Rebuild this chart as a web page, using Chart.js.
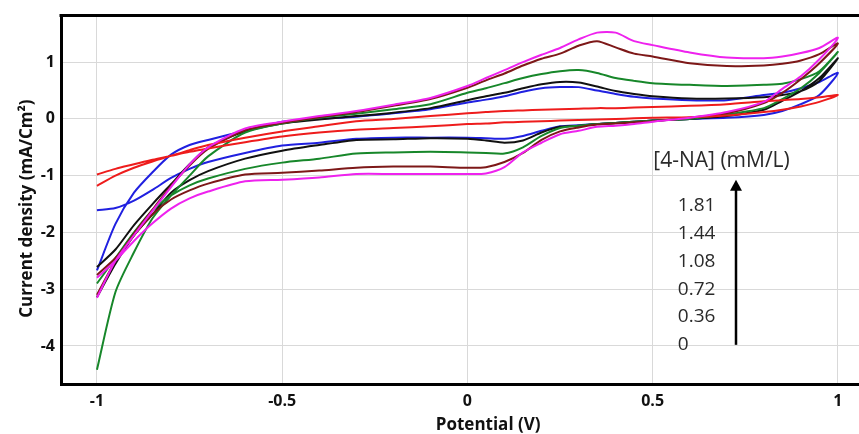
<!DOCTYPE html>
<html>
<head>
<meta charset="utf-8">
<script src="https://cdn.jsdelivr.net/npm/chart.js@4.4.1/dist/chart.umd.min.js"></script>
<style>
  body { margin: 0; background: #fff; }
</style>
</head>
<body>
<canvas id="chart" width="859" height="434"></canvas>
<script>
// potential grid (V), shared by all scans
const potential = [-1, -0.95, -0.9, -0.85, -0.8, -0.75, -0.7, -0.6, -0.5, -0.4, -0.3, -0.2, -0.1, 0,
  0.05, 0.1, 0.15, 0.2, 0.25, 0.3, 0.35, 0.4, 0.45, 0.5, 0.6, 0.7, 0.8, 0.85, 0.9, 0.95, 1];

// [4-NA] concentrations (mM/L)
const conc = ["0", "0.36", "0.72", "1.08", "1.44", "1.81"];

// current density (mA/cm2), anodic branch (upper) and cathodic branch (lower),
// both listed in the order of the potential grid
const up_0 = [-1.18, -1.0, -0.86, -0.75, -0.65, -0.55, -0.46, -0.33, -0.22, -0.13, -0.04, 0.0, 0.05, 0.1,
  0.12, 0.14, 0.15, 0.16, 0.17, 0.18, 0.19, 0.19, 0.2, 0.21, 0.23, 0.26, 0.31, 0.33, 0.35, 0.38, 0.42];
const low_0 = [-0.98, -0.88, -0.8, -0.72, -0.65, -0.58, -0.52, -0.41, -0.31, -0.24, -0.19, -0.16, -0.13, -0.09,
  -0.08, -0.06, -0.05, -0.04, -0.03, -0.02, -0.01, 0.0, 0.01, 0.02, 0.03, 0.06, 0.12, 0.16, 0.22, 0.3, 0.42];

const up_036 = [-2.67, -1.85, -1.3, -0.94, -0.63, -0.46, -0.37, -0.21, -0.05, 0.0, 0.04, 0.1, 0.17, 0.29,
  0.34, 0.4, 0.48, 0.54, 0.56, 0.56, 0.5, 0.44, 0.39, 0.36, 0.33, 0.33, 0.42, 0.46, 0.54, 0.65, 0.81];
const low_036 = [-1.61, -1.57, -1.44, -1.25, -1.04, -0.88, -0.76, -0.6, -0.47, -0.42, -0.35, -0.33, -0.33, -0.33,
  -0.34, -0.35, -0.3, -0.21, -0.13, -0.11, -0.09, -0.07, -0.05, -0.03, 0.0, 0.02, 0.07, 0.14, 0.26, 0.42, 0.81];

const up_072 = [-2.61, -2.3, -1.87, -1.5, -1.15, -0.8, -0.5, -0.22, -0.08, -0.01, 0.05, 0.11, 0.19, 0.33,
  0.4, 0.46, 0.54, 0.61, 0.65, 0.64, 0.57, 0.49, 0.44, 0.4, 0.36, 0.36, 0.38, 0.42, 0.49, 0.67, 1.07];
const low_072 = [-3.14, -2.55, -2.05, -1.68, -1.3, -1.08, -0.92, -0.7, -0.56, -0.46, -0.37, -0.36, -0.34, -0.35,
  -0.38, -0.42, -0.38, -0.24, -0.14, -0.12, -0.09, -0.07, -0.05, -0.03, 0.0, 0.05, 0.16, 0.32, 0.49, 0.72, 1.07];

const up_108 = [-4.42, -3.05, -2.35, -1.75, -1.35, -1.0, -0.66, -0.24, -0.08, 0.02, 0.09, 0.17, 0.26, 0.46,
  0.54, 0.63, 0.72, 0.79, 0.84, 0.86, 0.81, 0.72, 0.67, 0.63, 0.6, 0.58, 0.6, 0.62, 0.7, 0.84, 1.18];
const low_108 = [-2.9, -2.45, -2.0, -1.61, -1.35, -1.17, -1.05, -0.88, -0.77, -0.7, -0.61, -0.59, -0.58, -0.59,
  -0.6, -0.61, -0.5, -0.3, -0.16, -0.12, -0.09, -0.07, -0.05, -0.03, 0.0, 0.08, 0.19, 0.35, 0.54, 0.81, 1.18];

const up_144 = [-3.1, -2.5, -2.02, -1.6, -1.18, -0.82, -0.53, -0.2, -0.07, 0.03, 0.12, 0.23, 0.35, 0.55,
  0.68, 0.8, 0.94, 1.06, 1.15, 1.29, 1.37, 1.26, 1.15, 1.1, 0.98, 0.93, 0.94, 0.97, 1.03, 1.14, 1.33];
const low_144 = [-2.75, -2.45, -2.05, -1.68, -1.42, -1.26, -1.14, -0.98, -0.95, -0.91, -0.86, -0.84, -0.84, -0.86,
  -0.85, -0.76, -0.6, -0.37, -0.22, -0.15, -0.1, -0.08, -0.06, -0.04, 0.02, 0.1, 0.28, 0.46, 0.7, 0.98, 1.33];

const up_181 = [-3.15, -2.5, -2.05, -1.62, -1.2, -0.8, -0.5, -0.17, -0.05, 0.05, 0.14, 0.25, 0.37, 0.58,
  0.72, 0.86, 1.0, 1.13, 1.25, 1.4, 1.52, 1.52, 1.37, 1.3, 1.17, 1.08, 1.07, 1.1, 1.16, 1.25, 1.43];
const low_181 = [-2.8, -2.5, -2.15, -1.84, -1.58, -1.4, -1.28, -1.1, -1.07, -1.03, -0.97, -0.97, -0.97, -0.97,
  -0.96, -0.85, -0.59, -0.42, -0.27, -0.21, -0.14, -0.12, -0.09, -0.05, 0.02, 0.12, 0.3, 0.53, 0.75, 1.05, 1.43];

const xTicks = [-1, -0.5, 0, 0.5, 1];
const yTicks = [-4, -3, -2, -1, 0, 1];

const upper = [up_0, up_036, up_072, up_108, up_144, up_181];
const lower = [low_0, low_036, low_072, low_108, low_144, low_181];
const colors = ["#ee1c1c", "#2020e0", "#111111", "#17872a", "#7d1818", "#ee22ee"];

// one open loop per curve: forward scan -1 -> 1, then back 1 -> -1
function loop(up, low) {
  const fwd = potential.map((x, i) => ({ x: x, y: up[i] }));
  const back = potential.map((x, i) => ({ x: x, y: low[i] })).reverse();
  return fwd.concat(back.slice(1));
}

const datasets = conc.map((c, i) => ({
  label: c,
  data: loop(upper[i], lower[i]),
  borderColor: colors[i],
  borderWidth: 2,
  showLine: true,
  pointRadius: 0,
  tension: 0.25,
  order: [1, 6, 5, 3, 2, 0][i]
}));

const FONT = "'Open Sans', sans-serif";

const extras = {
  id: "extras",
  afterDraw(chart) {
    const { ctx, chartArea, scales } = chart;
    const xs = scales.x, ys = scales.y;
    ctx.save();
    // top frame line
    ctx.strokeStyle = "#000";
    ctx.lineWidth = 3;
    ctx.beginPath();
    ctx.moveTo(chartArea.left - 1.5, chartArea.top);
    ctx.lineTo(chartArea.right, chartArea.top);
    ctx.stroke();

    // axis titles
    ctx.fillStyle = "#111";
    ctx.font = "bold 17px " + FONT;
    ctx.textAlign = "center";
    ctx.textBaseline = "middle";
    ctx.fillText("Potential (V)", xs.getPixelForValue(0.056), 425);
    ctx.save();
    ctx.translate(27, ys.getPixelForValue(-1.58));
    ctx.rotate(-Math.PI / 2);
    ctx.fillText("Current density (mA/Cm\u00b2)", 0, 0);
    ctx.restore();

    // concentration legend with arrow
    ctx.fillStyle = "#2a2a2a";
    ctx.font = "21px " + FONT;
    ctx.fillText("[4-NA] (mM/L)", xs.getPixelForValue(0.686), ys.getPixelForValue(-0.74));
    ctx.font = "19px " + FONT;
    ctx.textAlign = "left";
    conc.forEach((c, i) => {
      ctx.fillText(c, xs.getPixelForValue(0.568), ys.getPixelForValue(-3.98 + i * 0.49));
    });
    const ax = xs.getPixelForValue(0.725);
    const aTop = ys.getPixelForValue(-1.07);
    const aBot = ys.getPixelForValue(-3.98);
    ctx.strokeStyle = "#000";
    ctx.lineWidth = 2.5;
    ctx.beginPath();
    ctx.moveTo(ax, aBot);
    ctx.lineTo(ax, aTop + 8);
    ctx.stroke();
    ctx.fillStyle = "#000";
    ctx.beginPath();
    ctx.moveTo(ax, aTop);
    ctx.lineTo(ax - 6, aTop + 11);
    ctx.lineTo(ax + 6, aTop + 11);
    ctx.closePath();
    ctx.fill();
    ctx.restore();
  }
};

new Chart(document.getElementById("chart"), {
  type: "scatter",
  data: { datasets: datasets },
  options: {
    responsive: false,
    animation: false,
    layout: { padding: { top: 14, left: 0, right: 0, bottom: 0 } },
    plugins: { legend: { display: false }, tooltip: { enabled: false } },
    scales: {
      x: {
        type: "linear",
        min: -1.097,
        max: 1.057,
        afterBuildTicks: s => { s.ticks = xTicks.map(v => ({ value: v })); },
        afterFit: s => { s.height = 50; },
        grid: { color: "#d9d9d9", lineWidth: 1, drawTicks: false },
        border: { color: "#000", width: 3 },
        ticks: {
          padding: 8,
          color: "#111",
          font: { family: FONT, size: 16, weight: "bold" },
          callback: v => String(v)
        }
      },
      y: {
        type: "linear",
        min: -4.67,
        max: 1.82,
        afterBuildTicks: s => { s.ticks = yTicks.map(v => ({ value: v })); },
        afterFit: s => { s.width = 61; },
        grid: { color: "#d9d9d9", lineWidth: 1, drawTicks: false },
        border: { color: "#000", width: 3 },
        ticks: {
          padding: 6,
          color: "#111",
          font: { family: FONT, size: 16, weight: "bold" },
          callback: v => String(v)
        }
      }
    }
  },
  plugins: [extras]
});
</script>
</body>
</html>
